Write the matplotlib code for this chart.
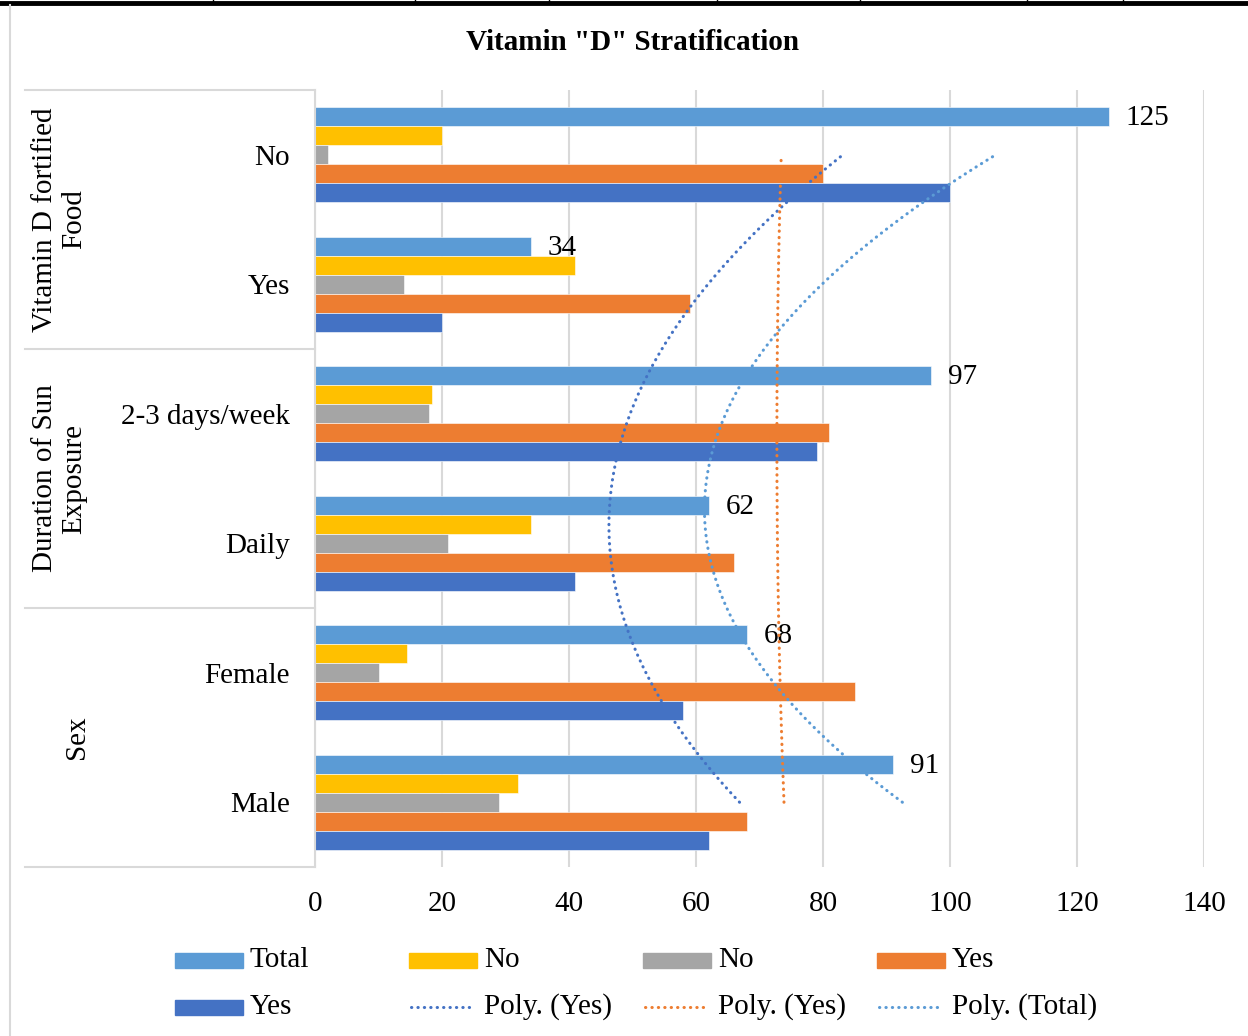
import numpy as np
import matplotlib
matplotlib.use("Agg")
import matplotlib.pyplot as plt
from matplotlib.patches import Rectangle
from matplotlib.lines import Line2D
from matplotlib.transforms import blended_transform_factory

plt.rcParams['font.family'] = ['Liberation Serif', 'DejaVu Serif']

# categories listed bottom to top
categories = ["Male", "Female", "Daily", "2-3 days/week", "Yes", "No"]
groups = ["Sex", "Duration of Sun\nExposure", "Vitamin D fortified\nFood"]
group_spans = [(0, 1), (2, 3), (4, 5)]

total = [91, 68, 62, 97, 34, 125]
no_yellow = [32, 14.5, 34, 18.5, 41, 20]
no_gray = [29, 10, 21, 18, 14, 2]
yes_orange = [68, 85, 66, 81, 59, 80]
yes_blue = [62, 58, 41, 79, 20, 100]

series = [
    ("Total", total, "#5B9BD5"),
    ("No", no_yellow, "#FFC000"),
    ("No", no_gray, "#A5A5A5"),
    ("Yes", yes_orange, "#ED7D31"),
    ("Yes", yes_blue, "#4472C4"),
]
trends = [
    ("Poly. (Yes)", yes_blue, "#4472C4"),
    ("Poly. (Yes)", yes_orange, "#ED7D31"),
    ("Poly. (Total)", total, "#5B9BD5"),
]

FS = 21
W, H = 1248, 1036
fig = plt.figure(figsize=(W / 100, H / 100), dpi=100)


def fx(px):
    return px / W


def fy(py):
    return 1 - py / H


ax = fig.add_axes([fx(315), fy(867), fx(1204) - fx(315), fy(90) - fy(867)])

y = np.arange(len(categories))
h = 0.1467
for i, (name, vals, color) in enumerate(series):
    off = (2 - i) * h
    ax.barh(y + off, vals, height=h, color=color, edgecolor="white",
            linewidth=0.4, zorder=2)

# data labels on Total
for yi, v in zip(y, total):
    ax.annotate(str(v), (v, yi + 2 * h), xytext=(12, -1), textcoords="offset points",
                va="center", ha="left", fontsize=FS)

# polynomial trendlines (order 2)
t = np.linspace(0, len(categories) - 1, 200)
for name, vals, color in trends:
    coef = np.polyfit(y, vals, 2)
    ax.plot(np.polyval(coef, t), t, color=color, lw=2.2,
            linestyle=(0, (0.1, 2.0)), dash_capstyle="round", zorder=3)

ax.set_xlim(0, 140)
ax.set_ylim(-0.5, len(categories) - 0.5)
ax.set_xticks(range(0, 141, 20))
ax.set_yticks(y)
ax.set_yticklabels(categories)
ax.tick_params(axis="both", length=0, labelsize=FS)
ax.tick_params(axis="y", pad=18)
ax.tick_params(axis="x", pad=17)
ax.grid(axis="x", color="#d9d9d9", lw=1.5, zorder=0)
ax.set_axisbelow(True)
for s in ["top", "right", "bottom"]:
    ax.spines[s].set_visible(False)
ax.spines["left"].set_color("#d9d9d9")
ax.spines["left"].set_linewidth(1.5)

# multi-level category separators and group labels
tr = blended_transform_factory(fig.transFigure, ax.transData)
for b in [-0.5, 1.5, 3.5, 5.5]:
    fig.add_artist(Line2D([fx(25), fx(315)], [b, b], transform=tr,
                          color="#d9d9d9", lw=1.5))
for g, (a, b) in zip(groups, group_spans):
    xpos = fx(60) if "\n" in g else fx(77)
    fig.text(xpos, (a + b) / 2, g, transform=tr, rotation=90, ha="center",
             va="center", fontsize=FS, linespacing=1.15)

fig.text(fx(633), fy(42), 'Vitamin "D" Stratification', ha="center", va="center",
         fontsize=FS, fontweight="bold")

# legend, drawn in fixed-width columns
entries = [(n, c, "bar") for n, _, c in series] + [(n, c, "line") for n, _, c in trends]
for i, (name, color, kind) in enumerate(entries):
    x0 = 175 + (i % 4) * 234
    yc = 960 + (i // 4) * 47
    if kind == "bar":
        fig.add_artist(Rectangle((fx(x0), fy(yc + 7.5)), fx(68), 15 / H,
                                 transform=fig.transFigure, color=color))
    else:
        fig.add_artist(Line2D([fx(x0 + 2), fx(x0 + 66)], [fy(yc), fy(yc)],
                              transform=fig.transFigure, color=color, lw=2.2,
                              linestyle=(0, (0.1, 2.0)), dash_capstyle="round"))
    fig.text(fx(x0 + 75), fy(yc), name, ha="left", va="center", fontsize=FS)

# page frame bits from the source document
fig.add_artist(Line2D([0, 1], [fy(3), fy(3)], transform=fig.transFigure,
                      color="black", lw=3.5))
for px in [213, 415, 549, 717, 860, 1027, 1123]:
    fig.add_artist(Line2D([fx(px), fx(px)], [1, fy(3)], transform=fig.transFigure,
                          color="black", lw=1))
fig.add_artist(Line2D([fx(10), fx(10)], [fy(5), 0], transform=fig.transFigure,
                      color="#d9d9d9", lw=1.5))

fig.savefig("out.png", dpi=100)
